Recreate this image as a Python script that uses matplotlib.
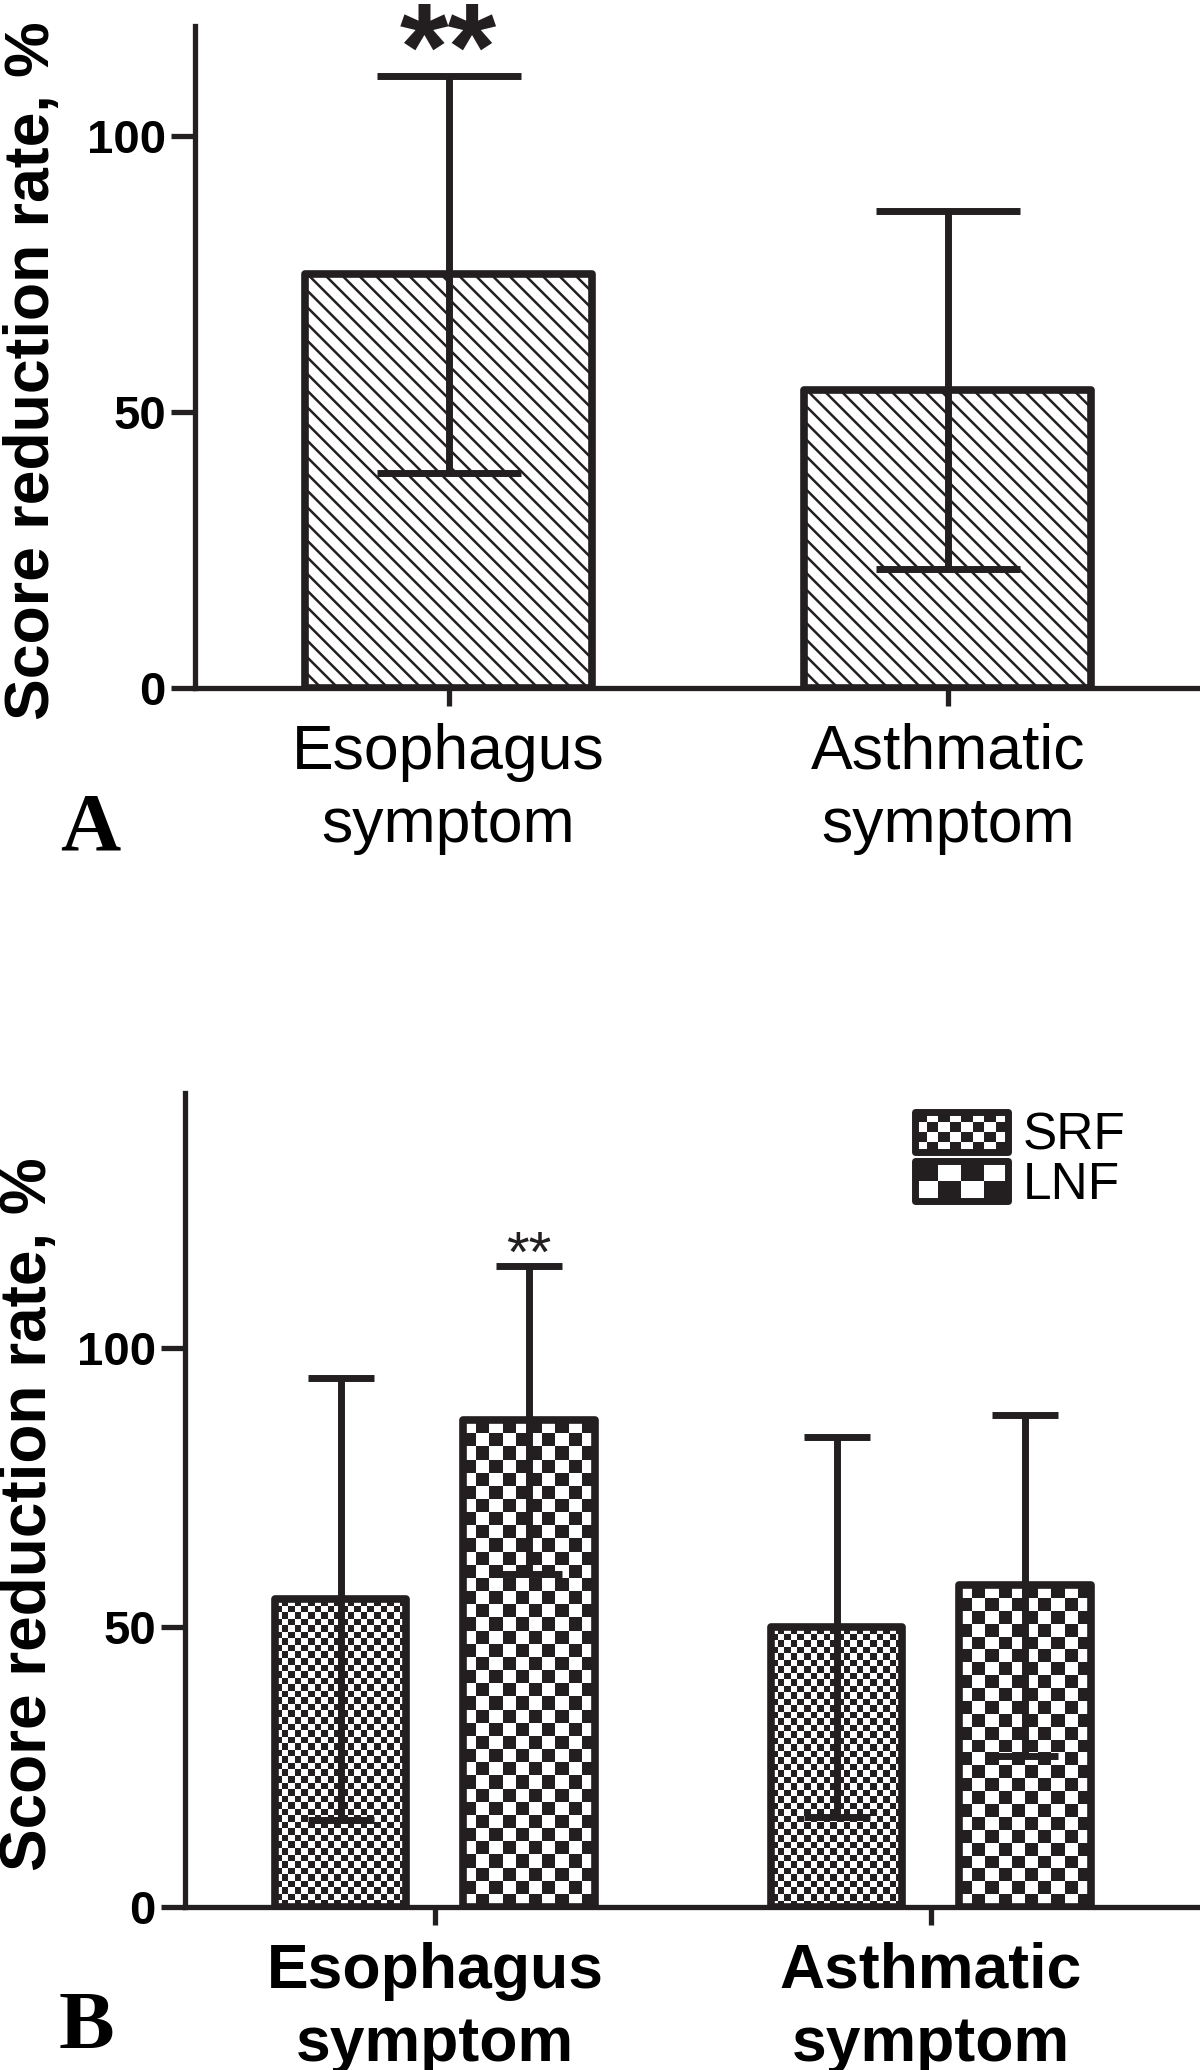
import numpy as np
import matplotlib
matplotlib.use('Agg')
import matplotlib.pyplot as plt
from matplotlib.colors import ListedColormap
from matplotlib.patches import Patch, Rectangle
from matplotlib.legend_handler import HandlerBase

# panel A: overall score reduction
cats = ['Esophagus\nsymptom', 'Asthmatic\nsymptom']
a_mean = [75, 54]
a_sd = [36, 32.5]

# panel B: by surgery type
groups = ['SRF', 'LNF']
srf_mean = [55, 50]
srf_sd = [39.5, 34]
lnf_mean = [87, 57.5]
lnf_sd = [27.5, 30.5]

yticks = [0, 50, 100]

DARK = '#231f20'
SANS = ['Liberation Sans', 'DejaVu Sans']
SERIF = ['Liberation Serif', 'DejaVu Serif']

plt.rcParams['font.family'] = SANS
plt.rcParams['hatch.linewidth'] = 1.8
plt.rcParams['hatch.color'] = DARK


def style_axes(ax, ylim, xlim):
    for s in ['top', 'right']:
        ax.spines[s].set_visible(False)
    for s in ['left', 'bottom']:
        ax.spines[s].set_linewidth(3.8)
        ax.spines[s].set_color(DARK)
    ax.set_ylim(*ylim)
    ax.set_xlim(*xlim)
    ax.set_yticks(yticks)
    ax.tick_params(axis='y', length=17, width=3.8, color=DARK, pad=4)
    ax.tick_params(axis='x', length=13, width=3.8, color=DARK, pad=12)
    for lab in ax.get_yticklabels():
        lab.set_fontsize(34)
        lab.set_fontweight('bold')
        lab.set_family(SANS)


def checker(ax, bar, cell_px):
    # checkerboard fill for a bar, cell size in pixels
    x0, w, h = bar.get_x(), bar.get_width(), bar.get_height()
    p0 = ax.transData.transform((x0, 0))
    p1 = ax.transData.transform((x0 + w, h))
    nx = max(1, int(round((p1[0] - p0[0]) / cell_px)))
    ny = max(1, int(round((p1[1] - p0[1]) / cell_px)))
    grid = np.add.outer(np.arange(ny), np.arange(nx)) % 2
    ax.imshow(grid, cmap=ListedColormap(['white', DARK]), extent=(x0, x0 + w, 0, h),
              origin='lower', interpolation='nearest', aspect='auto', zorder=1.5)


class CheckerHandler(HandlerBase):
    def __init__(self, nx, ny):
        super().__init__()
        self.nx = nx
        self.ny = ny

    def create_artists(self, legend, orig_handle, xdescent, ydescent, width, height, fontsize, trans):
        x0, y0 = -xdescent, -ydescent
        cw, ch = width / self.nx, height / self.ny
        arts = [Rectangle((x0, y0), width, height, facecolor='white', edgecolor='none', transform=trans)]
        for i in range(self.nx):
            for j in range(self.ny):
                if (i + j) % 2:
                    arts.append(Rectangle((x0 + i * cw, y0 + j * ch), cw, ch, facecolor=DARK,
                                          edgecolor='none', transform=trans))
        arts.append(Rectangle((x0, y0), width, height, facecolor='none', edgecolor=DARK, lw=5,
                              joinstyle='round', transform=trans))
        return arts


fig = plt.figure(figsize=(12, 20.7), dpi=100)

# ---------- panel A ----------
axA = fig.add_axes([195 / 1200, 1 - 688 / 2070, 1 - 196 / 1200, (688 - 26) / 2070])
x = np.arange(len(cats))
style_axes(axA, (0, 120), (-0.508, 1.503))
axA.bar(x, a_mean, width=0.575, facecolor='white', edgecolor=DARK, linewidth=5.5,
        hatch='\\\\', joinstyle='round', zorder=2)
axA.errorbar(x, a_mean, yerr=a_sd, fmt='none', ecolor=DARK, elinewidth=5,
             capsize=52, capthick=5, zorder=3)
axA.set_xticks(x)
axA.set_xticklabels(cats, fontsize=45, linespacing=1.3)
axA.text(x[0], a_mean[0] + a_sd[0] - 2.5, '**', ha='center', va='baseline',
         fontsize=90, fontweight='bold', color=DARK)
axA.set_ylabel('Score reduction rate, %', fontsize=45, fontweight='bold')
axA.yaxis.set_label_coords(-0.132, 0.48)
fig.text(90 / 1200, 1 - 830 / 2070, 'A', fontsize=60, fontweight='bold', family=SERIF,
         ha='center', va='center')

# ---------- panel B ----------
axB = fig.add_axes([185 / 1200, 1 - 1907 / 2070, 1 - 186 / 1200, (1907 - 1093) / 2070])
style_axes(axB, (0, 145.5), (-0.504, 1.541))
off, bw = 0.19, 0.265
b1 = axB.bar(x - off, srf_mean, width=bw, facecolor='none', edgecolor=DARK, linewidth=5.5,
             joinstyle='round', zorder=2, label=groups[0])
b2 = axB.bar(x + off, lnf_mean, width=bw, facecolor='none', edgecolor=DARK, linewidth=5.5,
             joinstyle='round', zorder=2, label=groups[1])
for bar in b1:
    checker(axB, bar, 6.5)
for bar in b2:
    checker(axB, bar, 13)
axB.errorbar(x - off, srf_mean, yerr=srf_sd, fmt='none', ecolor=DARK, elinewidth=5,
             capsize=24, capthick=5, zorder=3)
axB.errorbar(x + off, lnf_mean, yerr=lnf_sd, fmt='none', ecolor=DARK, elinewidth=5,
             capsize=24, capthick=5, zorder=3)
axB.set_xlim(-0.504, 1.541)
axB.set_ylim(0, 145.5)
axB.set_xticks(x)
axB.set_xticklabels(cats, fontsize=45, fontweight='bold', linespacing=1.3)
axB.text(x[0] + off, lnf_mean[0] + lnf_sd[0] - 1, '**', ha='center', va='baseline',
         fontsize=42, color=DARK)
axB.set_ylabel('Score reduction rate, %', fontsize=46, fontweight='bold')
axB.yaxis.set_label_coords(-0.124, 0.483)

h1 = Patch(label=groups[0])
h2 = Patch(label=groups[1])
axB.legend(handles=[h1, h2], handler_map={h1: CheckerHandler(8, 4), h2: CheckerHandler(4, 2)},
           loc='upper left', bbox_to_anchor=(915 / 1200, 1 - 1112 / 2070),
           bbox_transform=fig.transFigure, frameon=False, fontsize=37,
           handlelength=1.8, handleheight=0.8, handletextpad=0.3, labelspacing=0.0,
           borderpad=0, borderaxespad=0)
fig.text(86 / 1200, 1 - 2028 / 2070, 'B', fontsize=60, fontweight='bold', family=SERIF,
         ha='center', va='center')

fig.savefig('out.png', dpi=100)
